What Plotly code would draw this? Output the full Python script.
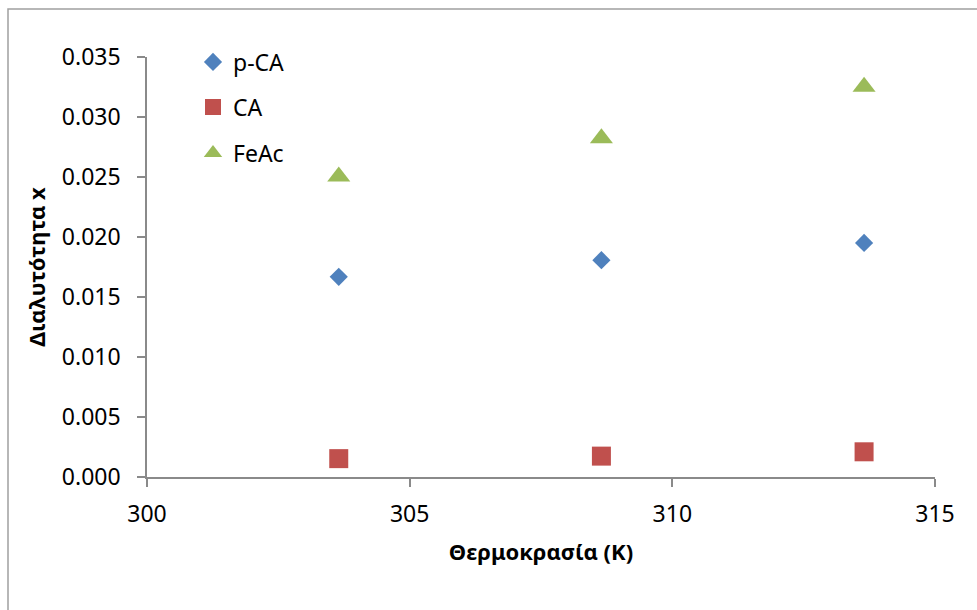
import plotly.graph_objects as go

# Temperature (K) and solubility (mole fraction) per compound
temperature = [303.65, 308.65, 313.65]
p_ca = [0.01668, 0.01807, 0.01951]
ca = [0.00153, 0.00174, 0.00210]
feac = [0.02504, 0.02822, 0.03252]

series_names = ["p-CA", "CA", "FeAc"]
x_ticks = [300, 305, 310, 315]
y_ticks = [0.000, 0.005, 0.010, 0.015, 0.020, 0.025, 0.030, 0.035]

FONT = "Noto Sans"
AXIS_COLOR = "#8a8a8a"

fig = go.Figure()
fig.add_trace(go.Scatter(
    x=temperature, y=p_ca, mode="markers", name=series_names[0],
    marker=dict(symbol="diamond", size=14, color="#4F81BD"),
    legend="legend",
))
fig.add_trace(go.Scatter(
    x=temperature, y=ca, mode="markers", name=series_names[1],
    marker=dict(symbol="square", size=19, color="#C0504D"),
    legend="legend2",
))
fig.add_trace(go.Scatter(
    x=temperature, y=feac, mode="markers", name=series_names[2],
    marker=dict(symbol="triangle-up", size=20, color="#9BBB59"),
    legend="legend3",
))

W, H = 977, 610
L, R, T, B = 147, 42, 57, 133
pw, ph = W - L - R, H - T - B


def px_x(p):
    return (p - L) / pw


def px_y(p):
    return (H - B - p) / ph


legend_common = dict(
    xanchor="left", yanchor="middle", bgcolor="rgba(0,0,0,0)",
    font=dict(family=FONT, size=23, color="#000"),
    itemsizing="trace",
)

fig.update_layout(
    width=W, height=H,
    margin=dict(l=L, r=R, t=T, b=B),
    paper_bgcolor="white", plot_bgcolor="white",
    font=dict(family=FONT, color="#000"),
    showlegend=True,
    legend=dict(x=px_x(193), y=px_y(62), **legend_common),
    legend2=dict(x=px_x(193), y=px_y(107), **legend_common),
    legend3=dict(x=px_x(193), y=px_y(153), **legend_common),
    xaxis=dict(
        range=[300, 315], tickvals=x_ticks, ticktext=[str(v) for v in x_ticks],
        showgrid=False, zeroline=False,
        showline=True, linecolor=AXIS_COLOR, linewidth=1.5,
        ticks="outside", ticklen=8, tickcolor=AXIS_COLOR, tickwidth=1.5,
        tickfont=dict(family=FONT, size=23, color="#000"),
        ticklabelstandoff=8,
        title=dict(text="<b>Θερμοκρασία (K)</b>",
                   font=dict(family=FONT, size=22, color="#000"), standoff=16),
    ),
    yaxis=dict(
        range=[0, 0.035], tickvals=y_ticks, tickformat=".3f",
        showgrid=False, zeroline=False,
        showline=True, linecolor=AXIS_COLOR, linewidth=1.5,
        ticks="outside", ticklen=8, tickcolor=AXIS_COLOR, tickwidth=1.5,
        tickfont=dict(family=FONT, size=23, color="#000"),
        ticklabelstandoff=12,
        title=dict(text="<b>Διαλυτότητα x</b>",
                   font=dict(family=FONT, size=22, color="#000"), standoff=10),
    ),
    shapes=[dict(
        type="rect", xref="paper", yref="paper",
        x0=px_x(8), x1=px_x(1000), y0=px_y(640), y1=px_y(9),
        line=dict(color="#a0a0a0", width=1.5), fillcolor="rgba(0,0,0,0)",
        layer="below",
    )],
)

fig.write_html("out.html")
